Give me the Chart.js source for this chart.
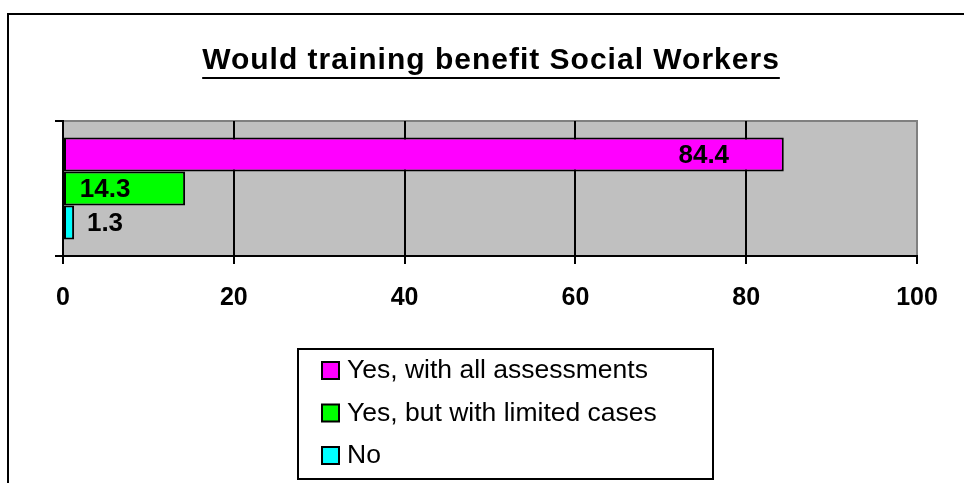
<!DOCTYPE html>
<html>
<head>
<meta charset="utf-8">
<title>Would training benefit Social Workers</title>
<script src="https://cdn.jsdelivr.net/npm/chart.js@4.4.1/dist/chart.umd.min.js"></script>
<style>
    html, body { margin: 0; padding: 0; background: #fff; }
    #box { position: relative; width: 964px; height: 483px; }
</style>
</head>
<body>
<div id="box"><canvas id="trainingChart"></canvas></div>
<script>
const chartTitle = 'Would training benefit Social Workers';
const categories = [''];
const seriesLabels = ['Yes, with all assessments', 'Yes, but with limited cases', 'No'];
const seriesValues = [84.4, 14.3, 1.3];
const xTicks = [0, 20, 40, 60, 80, 100];

const seriesColors = ['#ff00ff', '#00ff00', '#00ffff'];
const fontFamily = '"Liberation Sans", Arial, sans-serif';

// frame, gray plot area, title, value labels and the boxed legend
const excelLook = {
    id: 'excelLook',
    beforeDraw(chart) {
        const ctx = chart.ctx;
        const a = chart.chartArea;
        ctx.save();
        ctx.fillStyle = '#fff';
        ctx.fillRect(0, 0, chart.width, chart.height);
        ctx.fillStyle = '#c0c0c0';
        ctx.fillRect(a.left, a.top, a.right - a.left, a.bottom - a.top);
        ctx.strokeStyle = '#808080';
        ctx.lineWidth = 2;
        ctx.beginPath();
        ctx.moveTo(a.left, a.top);
        ctx.lineTo(a.right, a.top);
        ctx.lineTo(a.right, a.bottom);
        ctx.stroke();
        ctx.restore();
    },
    afterDraw(chart) {
        const ctx = chart.ctx;
        const a = chart.chartArea;
        ctx.save();

        // outer frame (cut off on the right and bottom)
        ctx.strokeStyle = '#000';
        ctx.lineWidth = 2;
        ctx.beginPath();
        ctx.moveTo(8, chart.height);
        ctx.lineTo(8, 14);
        ctx.lineTo(chart.width, 14);
        ctx.stroke();

        // underlined title
        ctx.font = 'bold 30px ' + fontFamily;
        ctx.letterSpacing = '1px';
        ctx.fillStyle = '#000';
        ctx.textAlign = 'center';
        ctx.textBaseline = 'alphabetic';
        const tx = 491;
        ctx.fillText(chartTitle, tx, 69);
        const tw = ctx.measureText(chartTitle).width;
        ctx.fillRect(tx - tw / 2, 77, tw, 2);
        ctx.letterSpacing = '0px';

        // value labels
        ctx.font = 'bold 26px ' + fontFamily;
        ctx.textAlign = 'center';
        ctx.textBaseline = 'middle';
        chart.data.datasets.forEach((ds, i) => {
            const bar = chart.getDatasetMeta(i).data[0];
            let x = bar.x - 80;
            let y = bar.y + 1;
            if (x < a.left + 42) {
                x = a.left + 42;
                if (bar.x > x - 25) y += 10;
            }
            ctx.fillText(String(ds.data[0]), x, y);
        });

        // legend
        const lx = 298, ly = 349, lw = 415, lh = 130;
        ctx.strokeStyle = '#000';
        ctx.lineWidth = 2;
        ctx.strokeRect(lx, ly, lw, lh);
        ctx.font = '26.5px ' + fontFamily;
        ctx.textAlign = 'left';
        chart.data.datasets.forEach((ds, i) => {
            const cy = 370 + i * 42.5;
            ctx.fillStyle = ds.backgroundColor;
            ctx.fillRect(322, cy - 8, 17, 17);
            ctx.strokeRect(322, cy - 8, 17, 17);
            ctx.fillStyle = '#000';
            ctx.fillText(ds.label, 347, cy + 1);
        });
        ctx.restore();
    }
};

window.addEventListener("load", function () {
    new Chart(document.getElementById("trainingChart"), {
        type: 'bar',
        data: {
            labels: categories,
            datasets: seriesLabels.map((label, i) => ({
                label: label,
                data: [seriesValues[i]],
                backgroundColor: seriesColors[i],
                borderColor: '#000',
                borderWidth: 2,
                borderSkipped: false,
                barPercentage: 1,
                categoryPercentage: 0.755
            }))
        },
        options: {
            indexAxis: 'y',
            responsive: true,
            maintainAspectRatio: false,
            animation: false,
            layout: {
                padding: { left: 55, right: 47, top: 121, bottom: 167 }
            },
            plugins: {
                legend: { display: false },
                title: { display: false },
                tooltip: { enabled: false }
            },
            scales: {
                x: {
                    min: 0,
                    max: 100,
                    afterBuildTicks: scale => { scale.ticks = xTicks.map(v => ({ value: v })); },
                    afterFit: scale => { scale.height = 60; },
                    border: { color: '#000', width: 2 },
                    grid: {
                        color: c => (c.tick && c.tick.value === 100) ? '#808080' : '#000',
                        tickColor: '#000',
                        lineWidth: 2,
                        tickLength: 8
                    },
                    ticks: {
                        color: '#000',
                        padding: 19,
                        maxRotation: 0,
                        font: { family: fontFamily, size: 25, weight: 'bold' }
                    }
                },
                y: {
                    afterFit: scale => { scale.width = 8; },
                    border: { color: '#000', width: 2 },
                    grid: {
                        drawOnChartArea: false,
                        color: '#000',
                        lineWidth: 2,
                        tickLength: 8
                    },
                    ticks: { display: false }
                }
            }
        },
        plugins: [excelLook]
    });
});
</script>
</body>
</html>
